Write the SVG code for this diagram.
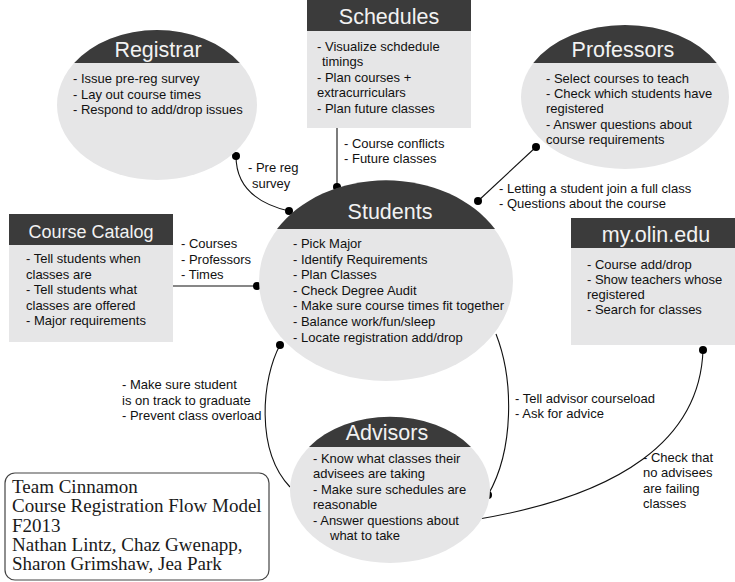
<svg xmlns="http://www.w3.org/2000/svg" width="735" height="582" viewBox="0 0 735 582">
<style>
.body{fill:#e6e6e7}
.head{fill:#3b3b3b}
.title{font-family:"Liberation Sans",Arial,sans-serif;font-size:21.5px;fill:#f2f2f2;text-anchor:middle}
.t{font-family:"Liberation Sans",Arial,sans-serif;font-size:13px;fill:#111}
.conn{fill:none;stroke:#111;stroke-width:1.1}
.dot{fill:#000}
.serif{font-family:"Liberation Serif","Times New Roman",serif;font-size:19px;fill:#1a1a1a}
</style>
<rect width="735" height="582" fill="#fff"/>
<g id="connectors">
<path class="conn" d="M236,156 C236,185 255,203 289,211"/>
<circle class="dot" cx="236" cy="156" r="4"/>
<circle class="dot" cx="289" cy="211" r="4"/>
<line class="conn" x1="337" y1="128" x2="337" y2="187"/>
<circle class="dot" cx="337" cy="187" r="4"/>
<line class="conn" x1="536" y1="147" x2="478" y2="201"/>
<circle class="dot" cx="536" cy="147" r="4"/>
<circle class="dot" cx="478" cy="201" r="4"/>
<line class="conn" x1="173" y1="286" x2="257" y2="286"/>
<circle class="dot" cx="257" cy="286" r="4"/>
<path class="conn" d="M280,345 C262,378 255,450 290,487"/>
<circle class="dot" cx="280" cy="345" r="4"/>
<path class="conn" d="M496,334 C514,380 514,450 488,495"/>
<circle class="dot" cx="488" cy="495" r="4"/>
<path class="conn" d="M703,350 C700,440 620,495 479,519"/>
<circle class="dot" cx="703" cy="350" r="4"/>
<g class="t">
<text x="248" y="172">- Pre reg</text>
<text x="252" y="188">survey</text>
<text x="344" y="148">- Course conflicts</text>
<text x="344" y="163">- Future classes</text>
<text x="499" y="193">- Letting a student join a full class</text>
<text x="499" y="208">- Questions about the course</text>
<text x="181" y="248">- Courses</text>
<text x="181" y="264">- Professors</text>
<text x="181" y="279">- Times</text>
<text x="122" y="389">- Make sure student</text>
<text x="122" y="404.5">is on track to graduate</text>
<text x="122" y="420">- Prevent class overload</text>
<text x="515" y="403">- Tell advisor courseload</text>
<text x="515" y="418">- Ask for advice</text>
<text x="643" y="462">- Check that</text>
<text x="643" y="477">no advisees</text>
<text x="643" y="493">are failing</text>
<text x="643" y="508">classes</text>
</g>
</g>
<g id="registrar">
<ellipse class="body" cx="157" cy="105" rx="100" ry="75"/>
<path class="head" d="M74.2,63 A100,75 0 0 1 239.8,63 Z"/>
<text class="title" x="158" y="57">Registrar</text>
<text class="t" x="73" y="83">- Issue pre-reg survey</text>
<text class="t" x="73" y="99">- Lay out course times</text>
<text class="t" x="73" y="114">- Respond to add/drop issues</text>
</g>
<g id="schedules">
<rect class="body" x="307" y="0" width="164" height="128"/>
<rect class="head" x="307" y="0" width="164" height="31"/>
<text class="title" x="389" y="24">Schedules</text>
<text class="t" x="317" y="51">- Visualize schdedule</text>
<text class="t" x="322" y="66">timings</text>
<text class="t" x="317" y="82">- Plan courses +</text>
<text class="t" x="317" y="97">extracurriculars</text>
<text class="t" x="317" y="113">- Plan future classes</text>
</g>
<g id="professors">
<ellipse class="body" cx="625" cy="97" rx="104" ry="72"/>
<path class="head" d="M533.3,63 A104,72 0 0 1 716.7,63 Z"/>
<text class="title" x="623" y="57">Professors</text>
<text class="t" x="546" y="83">- Select courses to teach</text>
<text class="t" x="546" y="98">- Check which students have</text>
<text class="t" x="546" y="113">registered</text>
<text class="t" x="546" y="129">- Answer questions about</text>
<text class="t" x="546" y="144">course requirements</text>
</g>
<g id="students">
<ellipse class="body" cx="386" cy="281" rx="127" ry="100"/>
<path class="head" d="M277,229 A127,100 0 0 1 495,229 Z"/>
<text class="title" x="390" y="219">Students</text>
<text class="t" x="293" y="248">- Pick Major</text>
<text class="t" x="293" y="264">- Identify Requirements</text>
<text class="t" x="293" y="279">- Plan Classes</text>
<text class="t" x="293" y="295">- Check Degree Audit</text>
<text class="t" x="293" y="310">- Make sure course times fit together</text>
<text class="t" x="293" y="326">- Balance work/fun/sleep</text>
<text class="t" x="293" y="342">- Locate registration add/drop</text>
</g>
<g id="course-catalog">
<rect class="body" x="9" y="214" width="164" height="128"/>
<rect class="head" x="9" y="214" width="164" height="31"/>
<text class="title" x="91" y="238" style="font-size:18px">Course Catalog</text>
<text class="t" x="26" y="263">- Tell students when</text>
<text class="t" x="26" y="278.5">classes are</text>
<text class="t" x="26" y="294">- Tell students what</text>
<text class="t" x="26" y="309.5">classes are offered</text>
<text class="t" x="26" y="325">- Major requirements</text>
</g>
<g id="my-olin">
<rect class="body" x="571" y="218" width="164" height="127"/>
<rect class="head" x="571" y="218" width="164" height="30"/>
<text class="title" x="656" y="242">my.olin.edu</text>
<text class="t" x="587" y="269">- Course add/drop</text>
<text class="t" x="587" y="284">- Show teachers whose</text>
<text class="t" x="587" y="299">registered</text>
<text class="t" x="587" y="314">- Search for classes</text>
</g>
<g id="advisors">
<ellipse class="body" cx="390" cy="490" rx="100" ry="73"/>
<path class="head" d="M309,447 A100,73 0 0 1 471,447 Z"/>
<text class="title" x="387" y="440">Advisors</text>
<text class="t" x="313" y="463">- Know what classes their</text>
<text class="t" x="313" y="478">advisees are taking</text>
<text class="t" x="313" y="494">- Make sure schedules are</text>
<text class="t" x="313" y="509">reasonable</text>
<text class="t" x="313" y="525">- Answer questions about</text>
<text class="t" x="330" y="540">what to take</text>
</g>
<g id="team-box">
<rect x="5" y="473" width="264" height="107" rx="10" ry="10" fill="#fff" stroke="#444" stroke-width="1.2"/>
<text class="serif" x="12" y="493">Team Cinnamon</text>
<text class="serif" x="12" y="512">Course Registration Flow Model</text>
<text class="serif" x="12" y="532">F2013</text>
<text class="serif" x="12" y="551">Nathan Lintz, Chaz Gwenapp,</text>
<text class="serif" x="12" y="570">Sharon Grimshaw, Jea Park</text>
</g>
</svg>
